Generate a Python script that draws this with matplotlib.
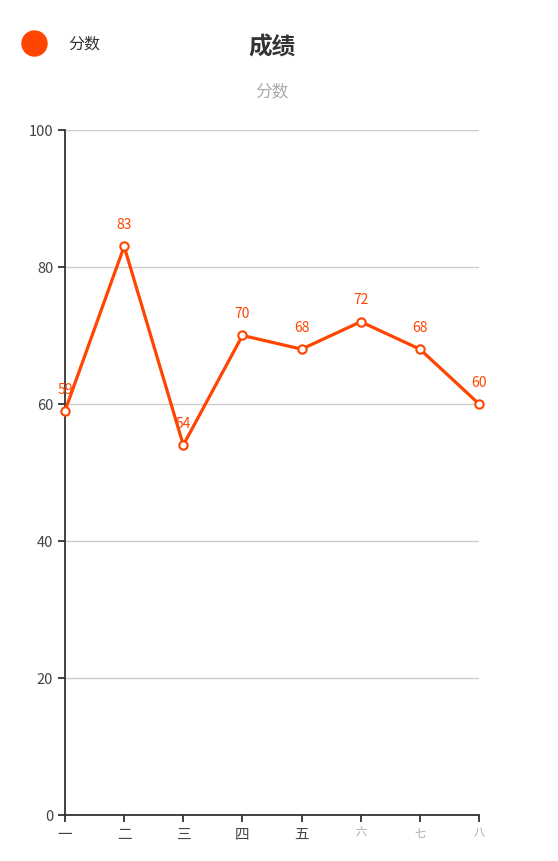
import matplotlib.pyplot as plt
from matplotlib.lines import Line2D

plt.rcParams['font.family'] = ['Noto Sans CJK SC', 'DejaVu Sans']

categories = ['一', '二', '三', '四', '五', '六', '七', '八']
scores = [59, 83, 54, 70, 68, 72, 68, 60]
yticks = [0, 20, 40, 60, 80, 100]

line_color = '#ff4500'
axis_color = '#333333'

fig = plt.figure(figsize=(5.58, 8.62), dpi=100)
ax = fig.add_axes([0.1165, 0.0534, 0.742, 0.7947])

x = list(range(len(categories)))
ax.plot(x, scores, color=line_color, linewidth=2.3, marker='o', markersize=6,
        markerfacecolor='white', markeredgecolor=line_color, markeredgewidth=1.5,
        zorder=3, clip_on=False)
for xi, v in zip(x, scores):
    ax.annotate(str(v), (xi, v), xytext=(0, 11), textcoords='offset points',
                ha='center', va='bottom', color=line_color, fontsize=10)

ax.set_xlim(0, len(categories) - 1)
ax.set_ylim(0, 100)
ax.set_yticks(yticks)
ax.set_xticks(x)
ax.set_xticklabels(categories)
ax.grid(axis='y', color='#cccccc', linewidth=1)
ax.set_axisbelow(True)

for s in ['top', 'right']:
    ax.spines[s].set_visible(False)
for s in ['left', 'bottom']:
    ax.spines[s].set_color(axis_color)
    ax.spines[s].set_linewidth(1.3)
ax.tick_params(axis='both', colors=axis_color, labelcolor='#444444',
               labelsize=10.5, length=5, width=1.3)
for lbl in ax.get_xticklabels()[5:]:
    lbl.set_color('#aaaaaa')
    lbl.set_fontsize(8)

fig.text(0.4875, 0.945, '成绩', ha='center', va='center', fontsize=17,
         fontweight='bold', color='#333333')
fig.text(0.4875, 0.893, '分数', ha='center', va='center', fontsize=12,
         color='#aaaaaa')

fig.add_artist(Line2D([34 / 558], [1 - 44 / 862], marker='o', markersize=18,
                      color=line_color, linestyle='none',
                      transform=fig.transFigure))
fig.text(68 / 558, 1 - 44 / 862, '分数', ha='left', va='center', fontsize=11.5,
         color='#333333')

fig.savefig('out.png', dpi=100)
